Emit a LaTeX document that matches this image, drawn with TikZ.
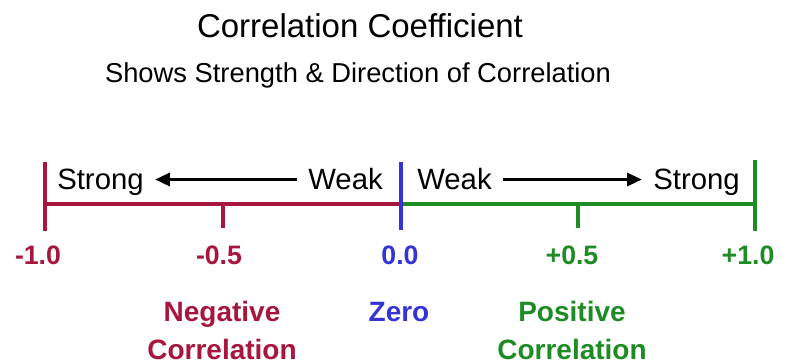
\documentclass[tikz,border=0pt]{standalone}
\usepackage{fontspec}
\setmainfont{Liberation Sans}
\usetikzlibrary{arrows.meta}
\definecolor{negred}{RGB}{168,22,62}
\definecolor{zeroblue}{RGB}{52,52,214}
\definecolor{posgreen}{RGB}{30,140,36}

\begin{document}
\begin{tikzpicture}[x=0.75pt, y=-0.75pt,
    axis/.style={line width=2.8pt},
    word/.style={font=\fontsize{22}{26}\selectfont, inner sep=0pt},
    num/.style={font=\bfseries\fontsize{20}{23}\selectfont, anchor=base},
    kind/.style={font=\bfseries\fontsize{21}{28.5}\selectfont, align=center, anchor=base},
    pointer/.style={line width=1.8pt, -{Triangle[length=11pt,width=10pt]}, shorten <=8.5pt, shorten >=8.5pt}]
    \useasboundingbox (0,0) rectangle (785,363);

    \def\ya{204};
    \def\yt{162};
    \def\yb{231};
    \def\yk{228};

    \def\xm{45};
    \def\xz{401};
    \def\xp{755};

    % title
    \node[anchor=base, font=\fontsize{24.75}{28}\selectfont] (title) at (360,38) {Correlation Coefficient};
    \node[anchor=base, font=\fontsize{20.5}{24}\selectfont] (subtitle) at (358,83) {Shows Strength \& Direction of Correlation};

    % axis
    \coordinate (mone) at (\xm,\ya);
    \coordinate (mhalf) at (\xm/2 + \xz/2,\ya);
    \coordinate (zero) at (\xz,\ya);
    \coordinate (phalf) at (\xz/2 + \xp/2,\ya);
    \coordinate (pone) at (\xp,\ya);

    \draw[axis, negred] (mone) -- (zero);
    \draw[axis, negred] (\xm,\yt) -- (\xm,\yb);
    \draw[axis, negred] (mhalf) -- (\xm/2 + \xz/2,\yk);
    \draw[axis, posgreen] (zero) -- (pone);
    \draw[axis, posgreen] (\xp,\yt - 2) -- (\xp,\yb);
    \draw[axis, posgreen] (phalf) -- (\xz/2 + \xp/2,\yk);
    \draw[axis, zeroblue] (\xz,\yt) -- (\xz,\yb - 1);

    % strength words
    \node[word, anchor=base west] (strongl) at (57,190) {Strong};
    \node[word, anchor=base east] (weakl) at (383,190) {Weak};
    \node[word, anchor=base west] (weakr) at (417,190) {Weak};
    \node[word, anchor=base east] (strongr) at (740,190) {Strong};
    \draw[pointer] (weakl.west) -- (weakl.west -| strongl.east);
    \draw[pointer] (weakr.east) -- (weakr.east -| strongr.west);

    % values
    \node[num, negred] (vmone) at (38,265) {-1.0};
    \node[num, negred] (vmhalf) at (219,265) {-0.5};
    \node[num, zeroblue] (vzero) at (400,265) {0.0};
    \node[num, posgreen] (vphalf) at (572,265) {+0.5};
    \node[num, posgreen] (vpone) at (748,265) {+1.0};

    % kinds (base is the last line)
    \node[kind, negred] (neg) at (222,359) {Negative\\Correlation};
    \node[kind, zeroblue] (zer) at (399,321) {Zero};
    \node[kind, posgreen] (pos) at (572,359) {Positive\\Correlation};
\end{tikzpicture}
\end{document}
